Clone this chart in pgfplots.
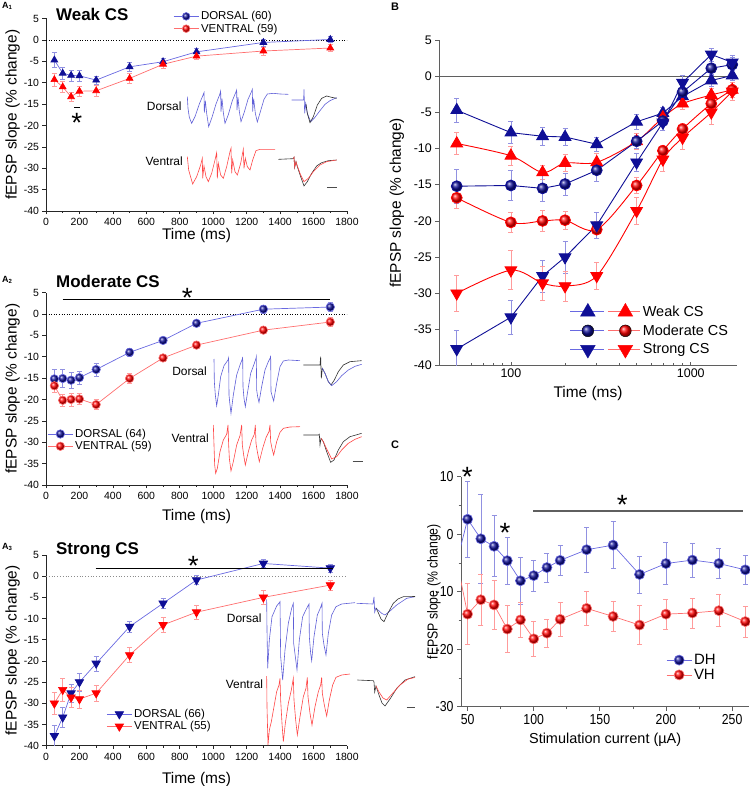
\documentclass[border=0pt]{standalone}
\usepackage{fontspec}
\setmainfont{Liberation Sans}
\newfontfamily\narrowfont[FakeStretch=0.85]{Liberation Sans}
\usepackage{pgfplots}
\usepackage{pgfplotstable}
\pgfplotsset{compat=1.18}
\definecolor{bluedk}{RGB}{15,15,150}
\definecolor{blueln}{RGB}{105,105,225}
\definecolor{blueeb}{RGB}{145,145,225}
\definecolor{redln}{RGB}{255,110,110}
\definecolor{redeb}{RGB}{255,155,155}
\definecolor{trblue}{RGB}{95,95,215}
\definecolor{trred}{RGB}{255,70,70}
\definecolor{axgray}{RGB}{95,95,95}

\pgfplotstableread{
x y e
50 -4.7 1.7
100 -7.8 1.5
150 -8.3 1.3
200 -8.4 1.2
300 -9.4 1.0
500 -6.3 1.0
700 -5.1 0.8
900 -2.8 0.8
1300 -0.6 0.8
1700 0.1 0.7
}\WD
\pgfplotstableread{
x y e
50 -9.3 1.5
100 -11.0 1.3
150 -13.3 1.0
200 -12.0 1.2
300 -11.9 1.2
500 -9.0 1.1
700 -5.7 0.9
900 -3.8 0.8
1300 -2.6 0.9
1700 -1.9 0.8
}\WV
\pgfplotstableread{
x y e
50 -15.2 2.3
100 -15.1 2.1
150 -15.5 1.8
200 -14.9 1.5
300 -13.0 1.5
500 -9.0 0.9
700 -6.2 0.7
900 -2.2 0.7
1300 1.1 1.0
1700 1.6 1.0
}\MD
\pgfplotstableread{
x y e
50 -16.8 1.5
100 -20.2 1.4
150 -20.0 1.5
200 -19.9 1.3
300 -21.2 1.2
500 -15.1 1.1
700 -10.3 0.8
900 -7.3 0.8
1300 -3.8 0.8
1700 -1.9 1.0
}\MV
\pgfplotstableread{
x y e
50 -37.7 2.6
100 -33.3 2.4
150 -27.6 2.2
200 -25.0 2.2
300 -20.6 1.8
500 -11.9 1.3
700 -6.4 1.1
900 -0.9 1.0
1300 3.0 0.9
1700 1.9 1.0
}\SD
\pgfplotstableread{
x y e
50 -30.0 2.5
100 -26.8 2.7
150 -28.6 2.3
200 -29.0 2.1
300 -27.6 1.9
500 -18.6 1.8
700 -11.5 1.7
900 -8.5 1.6
1300 -5.0 1.6
1700 -2.1 1.2
}\SV
\pgfplotstableread{
x y e
50 2.6 6.6
60 -0.8 7.8
70 -2.1 5.3
80 -4.6 4.1
90 -8.1 4.1
100 -7.2 2.7
110 -5.8 2.5
120 -4.55 2.55
140 -2.7 3.95
160 -1.9 4.1
180 -7.0 3.2
200 -5.1 3.7
220 -4.5 3.0
240 -5.1 2.6
260 -6.2 2.5
}\DH
\pgfplotstableread{
x y e
50 -13.9 5.3
60 -11.4 4.5
70 -12.3 4.3
80 -16.5 4.1
90 -14.9 3.1
100 -18.2 3.1
110 -17.2 2.4
120 -14.8 3.0
140 -12.9 3.0
160 -14.3 2.6
180 -15.8 3.4
200 -13.9 2.6
220 -13.7 2.6
240 -13.3 2.8
260 -15.2 2.7
}\VH

\pgfplotsset{
  shortleg/.style={legend image code/.code={\draw[mark repeat=2,mark phase=2,##1] plot coordinates {(0bp,0bp) (12.5bp,0bp) (25bp,0bp)};}},
  apanel/.style={scale only axis, width=301bp, height=192.5bp,
    xmin=0, xmax=1800, ymin=-40, ymax=5, xtick distance=200, ytick distance=5, minor x tick num=1,
    axis x line*=bottom, axis y line*=left, axis line style={-, line width=0.6bp, black!85},
    tick style={black!85, line width=0.6bp}, major tick length=3.5bp, minor tick length=2bp, tick align=outside,
    /pgf/number format/assume math mode=true, /pgf/number format/1000 sep={},
    ticklabel style={font=\fontsize{10.5}{12}\selectfont},
    label style={font=\fontsize{15.5}{17}\selectfont},
    xlabel={Time (ms)}, ylabel={fEPSP slope (\% change)},
    ylabel style={at={(axis description cs:-0.111,0.5)}, anchor=center},
    legend cell align=left, shortleg,
    legend style={draw=none, fill=none, font=\fontsize{11.5}{13}\selectfont, row sep=-1.5bp, inner sep=1bp, anchor=north west},
  },
  ebB/.style={/pgfplots/error bars/y dir=both, /pgfplots/error bars/y explicit, /pgfplots/error bars/error bar style={blueeb, line width=0.6bp}, /pgfplots/error bars/error mark options={rotate=90, mark size=2.5bp, blueeb, line width=0.6bp}},
  ebR/.style={/pgfplots/error bars/y dir=both, /pgfplots/error bars/y explicit, /pgfplots/error bars/error bar style={redeb, line width=0.6bp}, /pgfplots/error bars/error mark options={rotate=90, mark size=2.5bp, redeb, line width=0.6bp}},
  z6/.style={x filter/.expression={180+x/3}, y filter/.expression={80+y/3}},
  z7/.style={x filter/.expression={200+x/3}, y filter/.expression={345+y/3}},
  z8/.style={x filter/.expression={250+x/3}, y filter/.expression={590+y/3}},
}
\tikzset{ast/.style={inner sep=0, font=\fontsize{28}{28}\selectfont, yshift=-6bp}}

\begin{document}
\begin{tikzpicture}
\useasboundingbox (0,0) rectangle (750bp,786bp);

% ---------------- A1 ----------------
\begin{axis}[apanel, at={(46bp,575bp)}, anchor=south west,
  xlabel style={at={(axis description cs:0.5,-0.127)}, anchor=center},
  legend style={at={(0.419,1.053)}}]
\addplot[black, dotted, line width=0.6bp, forget plot] coordinates {(0,0) (1800,0)};
\addplot[blueln, line width=0.7bp, mark=triangle*, mark size=3.9bp, mark options={fill=bluedk, draw=bluedk}, ebB, forget plot] table[x=x,y=y,y error=e]{\WD};
\addplot[redln, line width=0.7bp, mark=triangle*, mark size=3.9bp, mark options={fill=red, draw=red}, ebR, forget plot] table[x=x,y=y,y error=e]{\WV};
\addlegendimage{blueln, line width=0.7bp, mark=ball, mark size=3.8bp, mark options={ball color=bluedk}}
\addlegendentry{DORSAL (60)}
\addlegendimage{redln, line width=0.7bp, mark=ball, mark size=3.8bp, mark options={ball color=red}}
\addlegendentry{VENTRAL (59)}
\end{axis}

% ---------------- A2 ----------------
\begin{axis}[apanel, at={(46bp,301bp)}, anchor=south west,
  xlabel style={at={(axis description cs:0.5,-0.165)}, anchor=center},
  legend style={at={(0.001,0.307)}}]
\addplot[black, dotted, line width=0.6bp, forget plot] coordinates {(0,0) (1800,0)};
\addplot[blueln, line width=0.7bp, mark=ball, mark size=4.2bp, mark options={ball color=bluedk}, ebB, forget plot] table[x=x,y=y,y error=e]{\MD};
\addplot[redln, line width=0.7bp, mark=ball, mark size=4.2bp, mark options={ball color=red}, ebR, forget plot] table[x=x,y=y,y error=e]{\MV};
\addlegendimage{blueln, line width=0.7bp, mark=ball, mark size=4.2bp, mark options={ball color=bluedk}}
\addlegendentry{DORSAL (64)}
\addlegendimage{redln, line width=0.7bp, mark=ball, mark size=4.2bp, mark options={ball color=red}}
\addlegendentry{VENTRAL (59)}
\end{axis}

% ---------------- A3 ----------------
\begin{axis}[apanel, at={(46bp,40.3bp)}, anchor=south west, height=190.7bp,
  xlabel style={at={(axis description cs:0.5,-0.178)}, anchor=center},
  legend style={at={(0.197,0.208)}}]
\addplot[black!45, dotted, line width=0.8bp, forget plot] coordinates {(0,0) (1800,0)};
\addplot[blueln, line width=0.7bp, mark=triangle*, mark size=4.8bp, mark options={fill=bluedk, draw=bluedk, rotate=180}, ebB, forget plot] table[x=x,y=y,y error=e]{\SD};
\addplot[redln, line width=0.7bp, mark=triangle*, mark size=4.8bp, mark options={fill=red, draw=red, rotate=180}, ebR, forget plot] table[x=x,y=y,y error=e]{\SV};
\addlegendimage{blueln, line width=0.7bp, mark=triangle*, mark size=4.8bp, mark options={fill=bluedk, draw=bluedk, rotate=180}}
\addlegendentry{DORSAL (66)}
\addlegendimage{redln, line width=0.7bp, mark=triangle*, mark size=4.8bp, mark options={fill=red, draw=red, rotate=180}}
\addlegendentry{VENTRAL (55)}
\end{axis}

% ---------------- B ----------------
\begin{axis}[scale only axis, width=297.4bp, height=325.7bp, at={(439.3bp,420.3bp)}, anchor=south west,
  xmode=log, xmin=40, xmax=1800, ymin=-40, ymax=5, ytick distance=5,
  xtick={100,1000}, xticklabels={100,1000}, minor xtick={40,50,60,70,80,90,200,300,400,500,600,700,800,900},
  axis x line*=bottom, axis y line*=left, axis line style={-, line width=0.8bp, axgray},
  tick style={axgray, line width=0.7bp}, major tick length=4bp, minor tick length=2.5bp,
  xtick align=inside, ytick align=outside,
  /pgf/number format/assume math mode=true,
  ticklabel style={font=\fontsize{12.5}{14}\selectfont},
  label style={font=\fontsize{15.5}{17}\selectfont},
  xlabel={Time (ms)}, ylabel={fEPSP slope (\% change)},
  xlabel style={at={(axis description cs:0.5,-0.085)}, anchor=center},
  ylabel style={at={(axis description cs:-0.143,0.5)}, anchor=center},
  legend cell align=left,
  legend style={draw=none, fill=none, font=\fontsize{14.5}{16}\selectfont, row sep=3bp, inner sep=1bp, at={(0.435,0.195)}, anchor=north west}]
\addplot[axgray, line width=0.8bp, forget plot] coordinates {(40,0) (1800,0)};
\addplot[bluedk, line width=0.9bp, mark=triangle*, mark size=6.7bp, mark options={fill=bluedk}, ebB, forget plot] table[x=x,y=y,y error=e]{\WD};
\addplot[red, line width=0.9bp, smooth, mark=triangle*, mark size=6.7bp, mark options={fill=red}, ebR, forget plot] table[x=x,y=y,y error=e]{\WV};
\addplot[bluedk, line width=0.9bp, mark=ball, mark size=5.4bp, mark options={ball color=bluedk}, ebB, forget plot] table[x=x,y=y,y error=e]{\MD};
\addplot[red, line width=0.9bp, smooth, mark=ball, mark size=5.4bp, mark options={ball color=red}, ebR, forget plot] table[x=x,y=y,y error=e]{\MV};
\addplot[bluedk, line width=0.9bp, mark=triangle*, mark size=6.7bp, mark options={fill=bluedk, rotate=180}, ebB, forget plot] table[x=x,y=y,y error=e]{\SD};
\addplot[red, line width=0.9bp, smooth, mark=triangle*, mark size=6.7bp, mark options={fill=red, rotate=180}, ebR, forget plot] table[x=x,y=y,y error=e]{\SV};
\addlegendimage{legend image code/.code={
  \draw[blueln, line width=1bp] (0bp,0bp) -- (33.3bp,0bp);
  \draw[redln, line width=1bp] (37.5bp,0bp) -- (70bp,0bp);
  \draw[bluedk] plot[mark=triangle*, mark size=8.5bp, mark options={fill=bluedk}] coordinates {(17.5bp,0bp)};
  \draw[red] plot[mark=triangle*, mark size=8.5bp, mark options={fill=red}] coordinates {(55bp,0bp)};}}
\addlegendentry{Weak CS}
\addlegendimage{legend image code/.code={
  \draw[blueln, line width=1bp] (0bp,0bp) -- (33.3bp,0bp);
  \draw[redln, line width=1bp] (37.5bp,0bp) -- (70bp,0bp);
  \draw plot[mark=ball, mark size=5.9bp, mark options={ball color=bluedk}] coordinates {(17.5bp,0bp)};
  \draw plot[mark=ball, mark size=5.9bp, mark options={ball color=red}] coordinates {(55bp,0bp)};}}
\addlegendentry{Moderate CS}
\addlegendimage{legend image code/.code={
  \draw[blueln, line width=1bp] (0bp,0bp) -- (33.3bp,0bp);
  \draw[redln, line width=1bp] (37.5bp,0bp) -- (70bp,0bp);
  \draw[bluedk] plot[mark=triangle*, mark size=8.5bp, mark options={fill=bluedk, rotate=180}] coordinates {(17.5bp,0bp)};
  \draw[red] plot[mark=triangle*, mark size=8.5bp, mark options={fill=red, rotate=180}] coordinates {(55bp,0bp)};}}
\addlegendentry{Strong CS}
\end{axis}

% ---------------- C ----------------
\begin{axis}[scale only axis, width=288.3bp, height=230bp, at={(461bp,79.3bp)}, anchor=south west,
  xmin=45, xmax=263, ymin=-30, ymax=10, xtick={50,100,150,200,250}, ytick={-30,-20,-10,0,10}, minor tick num=1,
  axis x line*=bottom, axis y line*=left, axis line style={-, line width=1bp, axgray},
  tick style={axgray, line width=0.8bp}, major tick length=4bp, minor tick length=2.5bp, tick align=outside,
  /pgf/number format/assume math mode=true,
  ticklabel style={font=\narrowfont\fontsize{14.5}{16}\selectfont},
  xlabel={Stimulation current (µA)}, ylabel={fEPSP slope (\% change)},
  xlabel style={font=\fontsize{14.5}{16}\selectfont, at={(axis description cs:0.5,-0.145)}, anchor=center},
  ylabel style={font=\narrowfont\fontsize{14.5}{16}\selectfont, at={(axis description cs:-0.094,0.5)}, anchor=center},
  legend cell align=left, shortleg,
  legend style={draw=none, fill=none, font=\fontsize{15}{17}\selectfont, row sep=-1bp, inner sep=1bp, at={(0.708,0.242)}, anchor=north west}]
\addplot[blueln, line width=0.7bp, forget plot] coordinates {(40,-6.5) (50,2.6)};
\addplot[redln, line width=0.7bp, forget plot] coordinates {(40,-2.6) (50,-13.9)};
\addplot[blueln, line width=0.7bp, mark=ball, mark size=5bp, mark options={ball color=bluedk}, ebB] table[x=x,y=y,y error=e]{\DH};
\addlegendentry{DH}
\addplot[redln, line width=0.7bp, mark=ball, mark size=5bp, mark options={ball color=red}, ebR] table[x=x,y=y,y error=e]{\VH};
\addlegendentry{VH}
\end{axis}

% ---------------- overlay: traces and annotations ----------------
\begin{axis}[at={(0,0)}, anchor=south west, scale only axis, width=750bp, height=786bp,
  xmin=0, xmax=750, ymin=0, ymax=786, y dir=reverse, hide axis, clip=false]
% A1 dorsal train
\addplot[trblue, line width=0.6bp, z6] coordinates {(22,50) (24,85) (28,112) (35,130) (45,110) (58,72) (68,48) (72,38) (73,98) (76,62) (80,100) (86,140) (96,112) (108,72) (119,44) (122,33) (123,95) (126,56) (130,98) (135,130) (145,104) (157,62) (167,38) (170,30) (171,90) (174,52) (178,95) (183,125) (193,96) (204,58) (214,36) (217,28) (218,95) (221,56) (226,100) (232,126) (242,92) (252,58) (262,42) (280,40) (300,42) (325,43)};
% A1 dorsal single
\addplot[trblue, line width=0.6bp, z6] coordinates {(335,60) (371,60) (372,28) (374,100) (377,70) (382,100) (392,125) (405,112) (420,92) (435,73) (450,62) (470,53)};
\addplot[black!80, line width=0.6bp, z6] coordinates {(378,72) (382,100) (390,128) (400,110) (412,75) (425,55) (440,48) (455,52) (470,55)};
% A1 ventral train
\addplot[trred, line width=0.6bp, z6] coordinates {(22,230) (26,270) (38,312) (50,290) (62,255) (67,235) (68,295) (72,258) (78,290) (85,305) (95,280) (105,240) (110,218) (112,295) (115,250) (122,285) (130,295) (140,260) (150,215) (153,205) (155,280) (158,240) (165,275) (172,285) (182,250) (190,208) (192,265) (196,235) (202,260) (210,270) (218,240) (228,212) (240,208) (285,208)};
% A1 ventral single
\addplot[black!80, line width=0.6bp, z6] coordinates {(295,238) (340,236) (342,232) (344,262) (348,245) (352,260) (362,290) (372,318) (382,305) (395,280) (410,258) (425,248) (445,242) (470,240)};
\addplot[trred, line width=0.6bp, z6] coordinates {(340,236) (342,232) (344,262) (348,245) (352,258) (362,285) (372,305) (385,295) (400,275) (420,255) (440,245) (470,240)};
\addplot[black!70, line width=0.8bp, z6] coordinates {(441,322) (471,322)};
% A2 dorsal train
\addplot[trblue, line width=0.6bp, z7] coordinates {(42,42) (43,110) (46,150) (50,182) (55,150) (62,95) (72,62) (84,45) (86,38) (87,150) (90,180) (93,205) (100,150) (110,90) (120,60) (127,42) (128,36) (129,125) (132,160) (136,185) (143,140) (152,85) (162,58) (168,40) (169,35) (170,135) (173,155) (177,172) (185,125) (195,75) (205,50) (211,38) (212,32) (213,140) (217,155) (221,168) (230,115) (240,65) (250,48) (265,45) (300,47)};
% A2 dorsal single
\addplot[black!80, line width=0.6bp, z7] coordinates {(310,60) (360,60) (362,35) (364,100) (367,70) (375,85) (385,110) (393,120) (403,105) (415,80) (430,60) (450,50) (485,47)};
\addplot[trblue, line width=0.6bp, z7] coordinates {(367,70) (375,85) (385,110) (395,122) (410,110) (425,92) (445,75) (465,64) (485,58)};
% A2 ventral train
\addplot[trred, line width=0.6bp, z7] coordinates {(40,240) (42,300) (44,360) (47,385) (52,370) (60,320) (70,285) (80,268) (84,240) (86,300) (88,340) (93,378) (100,350) (110,300) (120,272) (125,240) (127,300) (131,330) (136,360) (145,320) (155,285) (163,268) (166,240) (168,295) (172,320) (178,350) (188,310) (198,278) (207,260) (210,240) (212,290) (216,310) (221,330) (230,290) (240,262) (250,250) (270,246) (300,245)};
% A2 ventral single
\addplot[black!80, line width=0.6bp, z7] coordinates {(310,270) (356,270) (358,268) (360,300) (363,280) (370,290) (380,320) (392,352) (402,345) (415,315) (430,290) (450,275) (485,265)};
\addplot[trred, line width=0.6bp, z7] coordinates {(363,280) (370,290) (380,312) (395,342) (410,335) (425,315) (445,295) (465,283) (485,275)};
\addplot[black!70, line width=0.8bp, z7] coordinates {(458,348) (488,348)};
% A3 dorsal train
\addplot[trblue, line width=0.6bp, z8] coordinates {(50,28) (51,120) (53,235) (58,150) (66,80) (80,48) (88,38) (90,35) (92,200) (98,270) (105,180) (115,100) (125,55) (130,40) (131,160) (136,200) (141,240) (148,150) (158,80) (170,55) (177,42) (178,140) (182,190) (185,212) (192,140) (202,75) (212,52) (216,40) (217,130) (222,165) (228,195) (235,130) (245,75) (258,50) (275,42) (315,38)};
% A3 ventral train
\addplot[trred, line width=0.6bp, z8] coordinates {(50,258) (51,350) (54,465) (58,420) (64,395) (72,350) (80,305) (87,285) (90,265) (92,330) (96,400) (100,455) (106,400) (115,340) (124,300) (130,265) (132,330) (137,390) (142,435) (150,380) (160,320) (168,295) (172,262) (174,320) (180,370) (186,405) (195,350) (205,305) (212,285) (215,262) (217,310) (223,345) (230,378) (238,330) (248,285) (258,262) (275,255) (300,252)};
% A3 singles (pixel coordinates)
\addplot[trblue, line width=0.6bp] coordinates {(356.7,603.3) (373,604) (374,597) (374.7,612) (376,608) (378,610) (381.7,613.3) (385,615) (390,611) (396.7,605) (406.7,598.3) (415,596.7)};
\addplot[black!80, line width=0.6bp] coordinates {(376,608) (378,612) (381,619) (384,621.7) (388,613) (393.3,603.3) (398,599) (403.3,596.7) (415,596.5)};
\addplot[black!80, line width=0.6bp] coordinates {(357.3,680) (373.3,680.7) (374,682) (374.7,692) (376,686) (379,695) (382,703) (385,706) (390,699) (397,688) (405,680) (415,676.7)};
\addplot[trred, line width=0.6bp] coordinates {(376,686) (379,692) (383,698) (386.7,700) (392,694) (400,685) (408,679) (415,677.5)};
\addplot[black!70, line width=0.8bp] coordinates {(406.7,707.3) (415,707.3)};

% labels
\node[anchor=west, inner sep=0, font=\bfseries\fontsize{9}{10}\selectfont] at (2,6) {A\textsubscript{1}};
\node[anchor=west, inner sep=0, font=\bfseries\fontsize{9}{10}\selectfont] at (2,280) {A\textsubscript{2}};
\node[anchor=west, inner sep=0, font=\bfseries\fontsize{9}{10}\selectfont] at (2,547) {A\textsubscript{3}};
\node[anchor=west, inner sep=0, font=\bfseries\fontsize{11}{12}\selectfont] at (391,6.5) {B};
\node[anchor=west, inner sep=0, font=\bfseries\fontsize{11}{12}\selectfont] at (391,445) {C};
\node[anchor=west, inner sep=0, font=\bfseries\fontsize{17}{19}\selectfont] at (56,14.3) {Weak CS};
\node[anchor=west, inner sep=0, font=\bfseries\fontsize{17}{19}\selectfont] at (56,281) {Moderate CS};
\node[anchor=west, inner sep=0, font=\bfseries\fontsize{17}{19}\selectfont] at (56,550) {Strong CS};
\node[anchor=east, inner sep=0, font=\fontsize{12}{14}\selectfont] at (181.7,106) {Dorsal};
\node[anchor=east, inner sep=0, font=\fontsize{12}{14}\selectfont] at (183,161) {Ventral};
\node[anchor=east, inner sep=0, font=\fontsize{12}{14}\selectfont] at (207,371) {Dorsal};
\node[anchor=east, inner sep=0, font=\fontsize{12}{14}\selectfont] at (209,438.3) {Ventral};
\node[anchor=east, inner sep=0, font=\fontsize{12}{14}\selectfont] at (261.7,618.3) {Dorsal};
\node[anchor=east, inner sep=0, font=\fontsize{12}{14}\selectfont] at (263.3,684) {Ventral};
% significance
\draw[black, line width=1.2bp] (74,107.3) -- (80,107.3);
\node[ast] at (76.7,116.7) {*};
\draw[black, line width=1.4bp] (62.7,299.5) -- (330.3,299.5);
\node[ast] at (187.3,291.7) {*};
\draw[black, line width=1.4bp] (95.7,568.3) -- (333.3,568.3);
\node[ast] at (193.3,560) {*};
\draw[axgray, line width=1.2bp] (533.3,511) -- (743.3,511);
\node[ast] at (622.3,499) {*};
\node[ast] at (467.3,471) {*};
\node[ast] at (505,527.3) {*};
\end{axis}
\end{tikzpicture}
\end{document}
